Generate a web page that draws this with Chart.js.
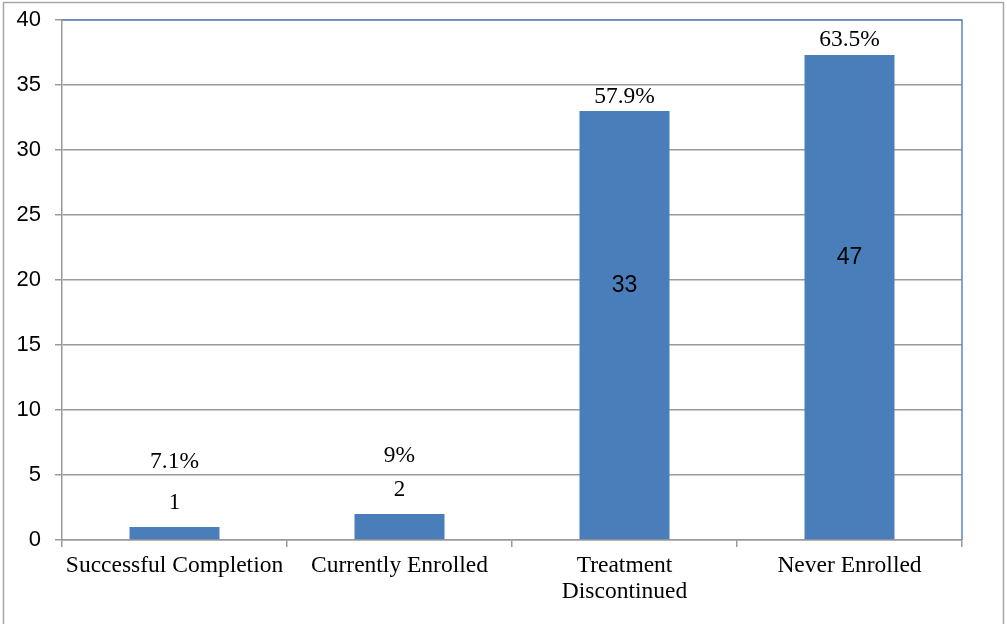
<!DOCTYPE html>
<html>
<head>
<meta charset="utf-8">
<script src="https://cdn.jsdelivr.net/npm/chart.js@4/dist/chart.umd.min.js"></script>
<style>
  html, body { margin: 0; padding: 0; background: #fff; }
  #wrap { width: 1007px; height: 624px; position: relative; }
</style>
</head>
<body>
<div id="wrap"><canvas id="c" width="1007" height="624"></canvas></div>
<script>
// Outcome categories and bar heights
const categories = ['Successful Completion', 'Currently Enrolled', ['Treatment', 'Discontinued'], 'Never Enrolled'];
const barValues = [1, 2, 33, 37.3];
// Labels printed on each bar
const countLabels = ['1', '2', '33', '47'];
const percentLabels = ['7.1%', '9%', '57.9%', '63.5%'];
// Y axis range
const yMin = 0, yMax = 40, yStep = 5;

const BAR_BLUE = '#4a7ebb';
const GRID_GREY = '#9a9a9a';
const FRAME_BLUE = '#5b87c5';

// Label placement relative to each bar top (px, positive = downward)
const percentOffsets = [-65, -58, -14, -15];
const countOffsets = [-24, -24, 175, 203];
const countFonts = [
  '23px "Liberation Serif"', '23px "Liberation Serif"',
  '23px "Liberation Sans"', '23px "Liberation Sans"'
];

const barLabelPlugin = {
  id: 'barLabels',
  afterDatasetsDraw(chart) {
    const ctx = chart.ctx;
    const meta = chart.getDatasetMeta(0);
    ctx.save();
    ctx.fillStyle = '#000';
    ctx.textAlign = 'center';
    ctx.textBaseline = 'middle';
    meta.data.forEach((bar, i) => {
      ctx.font = '23.5px "Liberation Serif"';
      ctx.fillText(percentLabels[i], bar.x, bar.y + percentOffsets[i]);
      ctx.font = countFonts[i];
      ctx.fillText(countLabels[i], bar.x, bar.y + countOffsets[i]);
    });
    ctx.restore();
  }
};

const framePlugin = {
  id: 'frame',
  beforeDraw(chart) {
    const ctx = chart.ctx;
    ctx.save();
    ctx.fillStyle = '#fff';
    ctx.fillRect(0, 0, chart.width, chart.height);
    ctx.strokeStyle = '#a6a6a6';
    ctx.lineWidth = 1.5;
    ctx.strokeRect(3.5, 2.5, 1000, 640);
    ctx.restore();
  },
  afterDraw(chart) {
    const a = chart.chartArea;
    const ctx = chart.ctx;
    ctx.save();
    ctx.strokeStyle = FRAME_BLUE;
    ctx.lineWidth = 1.5;
    ctx.beginPath();
    ctx.moveTo(a.left, a.top);
    ctx.lineTo(a.right, a.top);
    ctx.lineTo(a.right, a.bottom);
    ctx.stroke();
    ctx.restore();
  }
};

new Chart(document.getElementById('c'), {
  type: 'bar',
  data: {
    labels: categories,
    datasets: [{
      data: barValues,
      backgroundColor: BAR_BLUE,
      borderWidth: 0,
      barPercentage: 0.4,
      categoryPercentage: 1.0
    }]
  },
  options: {
    responsive: false,
    animation: false,
    devicePixelRatio: 1,
    layout: { padding: { left: 0, right: 45, top: 20, bottom: 0 } },
    plugins: { legend: { display: false }, tooltip: { enabled: false } },
    scales: {
      x: {
        offset: true,
        grid: {
          offset: true,
          drawOnChartArea: false,
          drawTicks: true,
          tickLength: 7,
          color: GRID_GREY,
          lineWidth: 1.5
        },
        border: { display: true, color: GRID_GREY, width: 1.5 },
        ticks: {
          color: '#000',
          font: { family: '"Liberation Serif"', size: 23.5, lineHeight: 1.1 },
          padding: 6,
          maxRotation: 0,
          autoSkip: false
        },
        afterFit(scale) {
          scale.height = 84;
          scale.paddingLeft = 0;
          scale.paddingRight = 0;
        }
      },
      y: {
        min: yMin,
        max: yMax,
        ticks: {
          stepSize: yStep,
          color: '#000',
          font: { family: '"Liberation Sans"', size: 22 },
          padding: 14
        },
        grid: {
          color: GRID_GREY,
          lineWidth: 1.5,
          tickLength: 7
        },
        border: { display: true, color: GRID_GREY, width: 1.5 },
        afterFit(scale) {
          scale.width = 62;
          scale.paddingTop = 0;
          scale.paddingBottom = 0;
        }
      }
    }
  },
  plugins: [framePlugin, barLabelPlugin]
});
</script>
</body>
</html>
